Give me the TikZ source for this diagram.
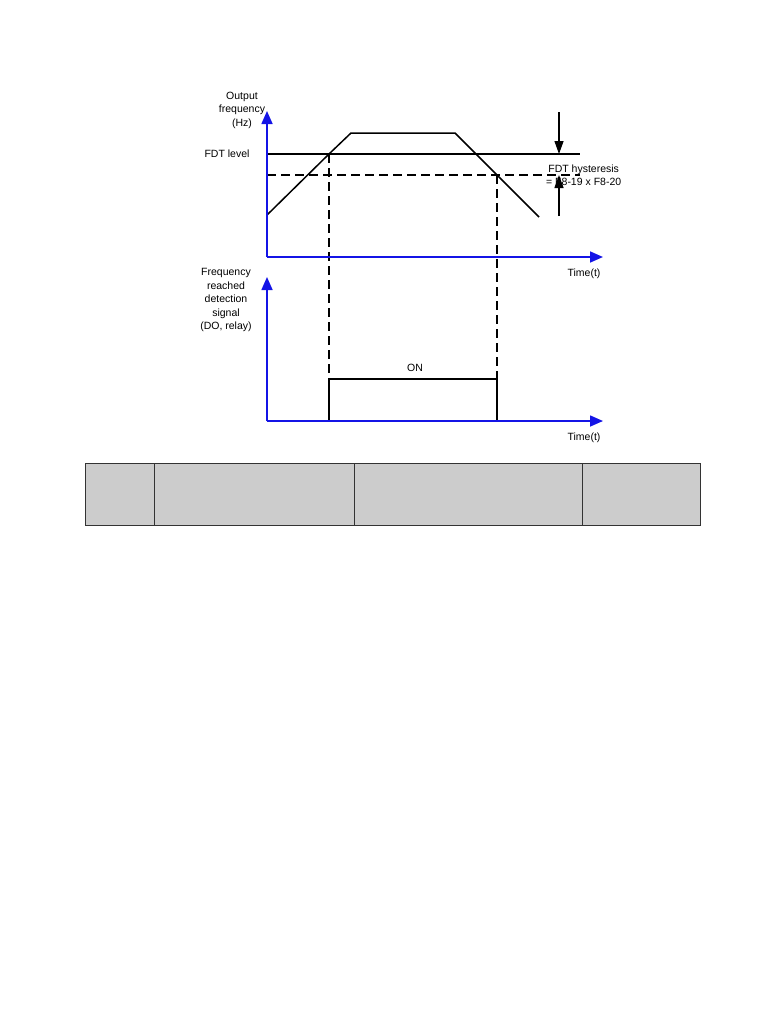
\documentclass[tikz,border=0pt]{standalone}
\usepackage{fontspec}
\setmainfont{Liberation Sans}
\usetikzlibrary{arrows.meta}
\definecolor{axisblue}{RGB}{20,20,230}
\definecolor{cellgray}{RGB}{204,204,204}
\tikzset{
  axis/.style={axisblue, line width=1.6pt, -{Triangle[length=13pt,width=11pt]}},
  curve/.style={black, line width=1.5pt},
  dashline/.style={black, line width=1.4pt, dash pattern=on 9pt off 5pt},
  hyst/.style={black, line width=1.3pt, -{Triangle[length=13pt,width=9pt]}},
  lbl/.style={font=\fontsize{10.5}{13.5}\selectfont, align=center, inner sep=0pt},
  cell/.style={fill=cellgray, draw=black!80, line width=1pt}
}
\begin{document}
\begin{tikzpicture}[x=1pt,y=-1pt]
\useasboundingbox (0,0) rectangle (766,1020);
% coordinates
\coordinate (o1) at (267,257);
\coordinate (y1) at (267,111);
\coordinate (x1) at (603,257);
\coordinate (o2) at (267,421);
\coordinate (y2) at (267,277);
\coordinate (x2) at (603,421);
\coordinate (fdtL) at (267,154);
\coordinate (fdtR) at (580,154);
\coordinate (hysL) at (267,175);
\coordinate (hysR) at (580,175);
\coordinate (c0) at (267,215);
\coordinate (c1) at (329,154);
\coordinate (c2) at (351,133);
\coordinate (c3) at (455,133);
\coordinate (c4) at (497,175);
\coordinate (c5) at (539,217);
\coordinate (p1) at (329,379);
\coordinate (p2) at (497,379);
\coordinate (b1) at (329,421);
\coordinate (b2) at (497,421);
\coordinate (ha) at (559,112);
\coordinate (hb) at (559,154);
\coordinate (hc) at (559,216);
\coordinate (hd) at (559,175);
% texts
\node[lbl] (outlbl) at (242,110) {Output\\frequency\\(Hz)};
\node[lbl] (fdtlbl) at (227,154) {FDT level};
\node[lbl, anchor=west] (hyslbl) at (546,175) {FDT hysteresis\\= F8-19 x F8-20};
\node[lbl] (t1) at (584,274) {Time(t)};
\node[lbl] (t2) at (584,438) {Time(t)};
\node[lbl] (siglbl) at (226,300) {Frequency\\reached\\detection\\signal\\(DO, relay)};
\node[lbl] (onlbl) at (415,368) {ON};
% level lines
\draw[curve, line width=1.2pt] (fdtL) -- (fdtR);
\draw[dashline, line width=1.2pt] (hysL) -- (hysR);
% frequency curve
\draw[curve] (c0) -- (c1) -- (c2) -- (c3) -- (c4) -- (c5);
% dashed verticals
\draw[dashline] (c1) -- (p1);
\draw[dashline] (c4) -- (p2);
% pulse
\draw[curve] (b1) -- (p1) -- (p2) -- (b2);
% hysteresis arrows
\draw[hyst] (ha) -- (hb);
\draw[hyst] (hc) -- (hd);
% axes
\draw[axis] (o1) -- (y1);
\draw[axis] (o1) -- (x1);
\draw[axis] (o2) -- (y2);
\draw[axis] (o2) -- (x2);
% table
\node[cell, minimum width=69pt, minimum height=62pt, anchor=north west] (tc1) at (85,463) {};
\node[cell, minimum width=200pt, minimum height=62pt, anchor=north west] (tc2) at (154,463) {};
\node[cell, minimum width=228pt, minimum height=62pt, anchor=north west] (tc3) at (354,463) {};
\node[cell, minimum width=118pt, minimum height=62pt, anchor=north west] (tc4) at (582,463) {};
\end{tikzpicture}
\end{document}
